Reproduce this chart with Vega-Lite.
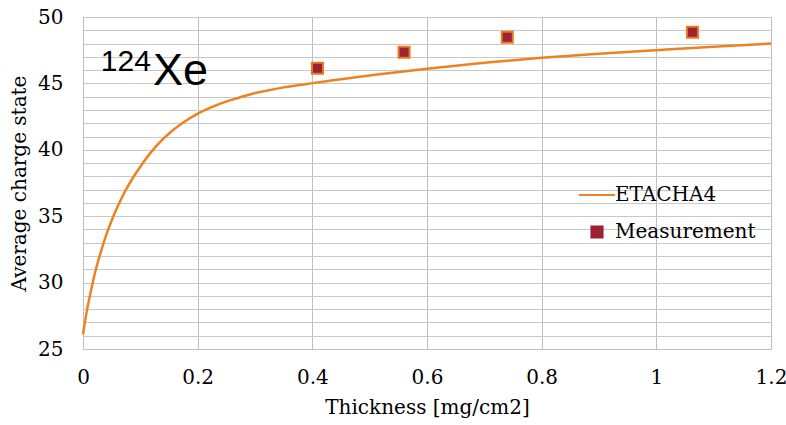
{
  "$schema": "https://vega.github.io/schema/vega-lite/v6.json",
  "width": 688,
  "height": 332,
  "autosize": {"type": "none"},
  "padding": {"left": 83, "top": 17, "right": 15, "bottom": 76},
  "background": "white",
  "config": {
    "view": {"stroke": "#bfbfbf", "strokeWidth": 1},
    "axis": {
      "labelFont": "DejaVu Serif",
      "titleFont": "DejaVu Serif",
      "labelFontSize": 20,
      "titleFontSize": 20,
      "labelColor": "#000000",
      "titleColor": "#000000",
      "titleFontWeight": "normal",
      "ticks": false,
      "labelFlush": false,
      "labelOverlap": false,
      "labelBound": false,
      "domainColor": "#bfbfbf",
      "gridColor": "#c8c8c8",
      "gridWidth": 1
    }
  },
  "layer": [
    {
      "data": {
        "values": [
          {"t": 0, "q": 26.1, "series": "ETACHA4"},
          {"t": 0.006, "q": 27.7, "series": "ETACHA4"},
          {"t": 0.012, "q": 29.0, "series": "ETACHA4"},
          {"t": 0.018, "q": 30.2, "series": "ETACHA4"},
          {"t": 0.024, "q": 31.25, "series": "ETACHA4"},
          {"t": 0.03, "q": 32.15, "series": "ETACHA4"},
          {"t": 0.041, "q": 33.65, "series": "ETACHA4"},
          {"t": 0.053, "q": 35.0, "series": "ETACHA4"},
          {"t": 0.07, "q": 36.6, "series": "ETACHA4"},
          {"t": 0.088, "q": 37.95, "series": "ETACHA4"},
          {"t": 0.105, "q": 39.05, "series": "ETACHA4"},
          {"t": 0.128, "q": 40.3, "series": "ETACHA4"},
          {"t": 0.152, "q": 41.3, "series": "ETACHA4"},
          {"t": 0.175, "q": 42.05, "series": "ETACHA4"},
          {"t": 0.2, "q": 42.72, "series": "ETACHA4"},
          {"t": 0.233, "q": 43.37, "series": "ETACHA4"},
          {"t": 0.262, "q": 43.8, "series": "ETACHA4"},
          {"t": 0.291, "q": 44.17, "series": "ETACHA4"},
          {"t": 0.32, "q": 44.45, "series": "ETACHA4"},
          {"t": 0.35, "q": 44.7, "series": "ETACHA4"},
          {"t": 0.378, "q": 44.88, "series": "ETACHA4"},
          {"t": 0.4, "q": 45.02, "series": "ETACHA4"},
          {"t": 0.43, "q": 45.2, "series": "ETACHA4"},
          {"t": 0.5, "q": 45.6, "series": "ETACHA4"},
          {"t": 0.6, "q": 46.1, "series": "ETACHA4"},
          {"t": 0.7, "q": 46.55, "series": "ETACHA4"},
          {"t": 0.8, "q": 46.93, "series": "ETACHA4"},
          {"t": 0.9, "q": 47.23, "series": "ETACHA4"},
          {"t": 1.0, "q": 47.5, "series": "ETACHA4"},
          {"t": 1.1, "q": 47.76, "series": "ETACHA4"},
          {"t": 1.2, "q": 48.0, "series": "ETACHA4"}
        ]
      },
      "mark": {"type": "line", "strokeWidth": 2.5, "interpolate": "monotone"},
      "encoding": {
        "x": {
          "field": "t",
          "type": "quantitative",
          "scale": {"domain": [0, 1.2], "nice": false, "zero": false},
          "axis": {
            "values": [0, 0.2, 0.4, 0.6, 0.8, 1, 1.2],
            "tickCount": 10,
            "format": "~g",
            "labelPadding": 18,
            "title": "Thickness [mg/cm2]",
            "titlePadding": 10,
            "gridColor": "#bfbfbf"
          }
        },
        "y": {
          "field": "q",
          "type": "quantitative",
          "scale": {"domain": [25, 50], "nice": false, "zero": false},
          "axis": {
            "values": [25,26,27,28,29,30,31,32,33,34,35,36,37,38,39,40,41,42,43,44,45,46,47,48,49,50],
            "tickCount": 40,
            "format": "d",
            "labelExpr": "datum.value % 5 === 0 ? datum.label : ''",
            "labelPadding": 20,
            "title": "Average charge state",
            "titlePadding": 8
          }
        },
        "color": {
          "field": "series",
          "type": "nominal",
          "scale": {"domain": ["ETACHA4", "Measurement"], "range": ["#ee8220", "#9b2335"]},
          "legend": {
            "title": null,
            "orient": "none",
            "legendX": 504,
            "legendY": 168,
            "labelFont": "DejaVu Serif",
            "labelFontSize": 20,
            "labelColor": "#000000",
            "labelOffset": 8,
            "rowPadding": 17,
            "symbolSize": 1225,
            "symbolStrokeWidth": 2,
            "encode": {
              "symbols": {
                "update": {
                  "shape": {"signal": "datum.value === 'ETACHA4' ? 'stroke' : 'square'"},
                  "size": {"signal": "datum.value === 'ETACHA4' ? 1300 : 121"},
                  "fill": {"signal": "datum.value === 'ETACHA4' ? 'transparent' : '#9b2335'"},
                  "stroke": {"value": "#e8791d"},
                  "strokeWidth": {"value": 2.2},
                  "opacity": {"value": 1}
                }
              }
            }
          }
        }
      }
    },
    {
      "data": {
        "values": [
          {"t": 0.409, "q": 46.14, "series": "Measurement"},
          {"t": 0.56, "q": 47.34, "series": "Measurement"},
          {"t": 0.74, "q": 48.47, "series": "Measurement"},
          {"t": 1.063, "q": 48.85, "series": "Measurement"}
        ]
      },
      "mark": {"type": "point", "shape": "square", "filled": true, "size": 121, "stroke": "#e8791d", "strokeWidth": 2, "opacity": 1},
      "encoding": {
        "x": {"field": "t", "type": "quantitative"},
        "y": {"field": "q", "type": "quantitative"},
        "color": {"field": "series", "type": "nominal"}
      }
    },
    {
      "data": {"values": [{"label": "124"}]},
      "mark": {"type": "text", "font": "Liberation Sans", "fontSize": 30, "align": "left", "baseline": "alphabetic", "color": "#000000"},
      "encoding": {
        "text": {"field": "label"},
        "x": {"datum": 0.031},
        "y": {"datum": 45.93}
      }
    },
    {
      "data": {"values": [{"label": "Xe"}]},
      "mark": {"type": "text", "font": "Liberation Sans", "fontSize": 45, "align": "left", "baseline": "alphabetic", "color": "#000000"},
      "encoding": {
        "text": {"field": "label"},
        "x": {"datum": 0.122},
        "y": {"datum": 44.88}
      }
    }
  ]
}
